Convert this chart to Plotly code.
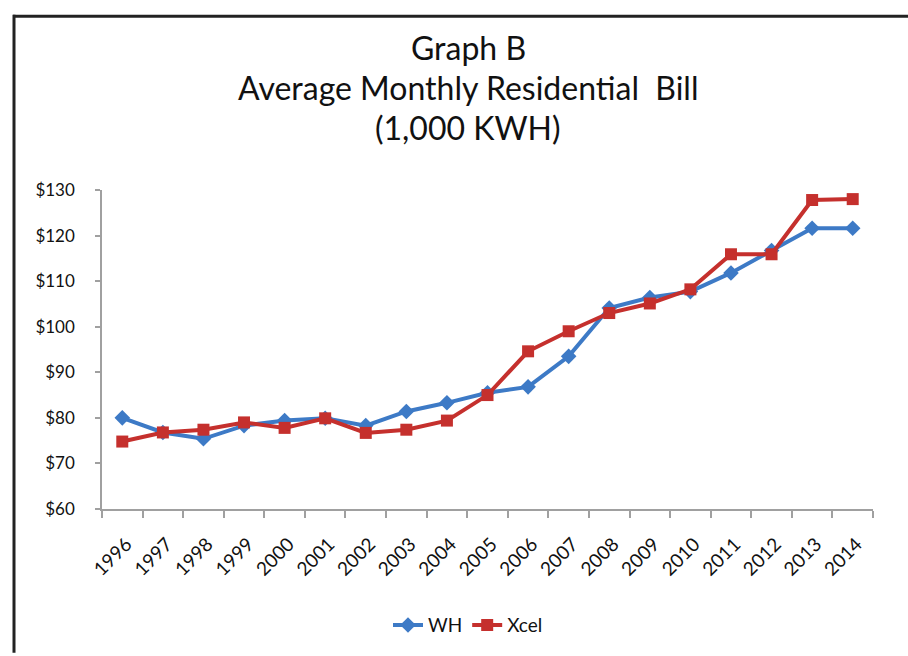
import plotly.graph_objects as go

years = [str(y) for y in range(1996, 2015)]
wh = [80.0, 76.8, 75.4, 78.3, 79.4, 79.9, 78.3, 81.4, 83.3, 85.5, 86.8, 93.5, 104.1, 106.4, 107.7, 111.8, 116.7, 121.6, 121.6]
xcel = [74.8, 76.8, 77.4, 79.0, 77.8, 79.9, 76.7, 77.4, 79.4, 85.0, 94.6, 99.0, 103.0, 105.1, 108.2, 115.9, 115.9, 127.8, 128.0]
ytick_vals = [60, 70, 80, 90, 100, 110, 120, 130]
ytick_text = ["$60", "$70", "$80", "$90", "$100", "$110", "$120", "$130"]
title_lines = ["Graph B", "Average Monthly Residential  Bill", "(1,000 KWH)"]

FONT = "Lato, 'Open Sans', sans-serif"
W, H = 908, 656
L, R, T, B = 102, 873, 190, 514

def px(xp):
    return (xp - L) / (R - L)

def py(yp):
    return (B - yp) / (B - T)

fig = go.Figure()
fig.add_trace(go.Scatter(
    x=years, y=wh, name="WH", mode="lines+markers",
    line=dict(color="#3D7AC6", width=4),
    marker=dict(symbol="diamond", size=12, color="#3D7AC6"),
))
fig.add_trace(go.Scatter(
    x=years, y=xcel, name="Xcel", mode="lines+markers",
    line=dict(color="#C5302D", width=4),
    marker=dict(symbol="square", size=12, color="#C5302D"),
))

annotations = []
for txt, yc in zip(title_lines, [45, 86, 127]):
    annotations.append(dict(
        text=txt, xref="paper", yref="paper", x=px(468), y=py(yc),
        xanchor="center", yanchor="middle", showarrow=False,
        font=dict(family=FONT, size=32, color="#111111"),
    ))

shapes = [
    dict(type="line", xref="paper", yref="paper", x0=px(13), x1=px(912), y0=py(13.5), y1=py(13.5),
         line=dict(color="#222222", width=3)),
    dict(type="line", xref="paper", yref="paper", x0=px(14), x1=px(14), y0=py(12), y1=py(660),
         line=dict(color="#222222", width=3)),
]

fig.update_layout(
    width=W, height=H,
    margin=dict(l=L, r=W - R, t=T, b=H - B, pad=0),
    paper_bgcolor="white", plot_bgcolor="white",
    font=dict(family=FONT, size=18, color="#111111"),
    showlegend=True,
    legend=dict(orientation="h", x=px(468), y=py(632), xanchor="center", yanchor="middle",
                font=dict(family=FONT, size=19), tracegroupgap=0,
                bgcolor="rgba(0,0,0,0)"),
    annotations=annotations,
    shapes=shapes,
    xaxis=dict(
        type="category", showgrid=False, showline=True, linecolor="#a0a0a0", linewidth=1.5,
        ticks="outside", tickson="boundaries", ticklen=7, tickcolor="#a0a0a0", tickwidth=1.5,
        tickangle=-45, tickfont=dict(family=FONT, size=19, color="#111111"),
        ticklabelstandoff=15, ticklabelshift=4,
        range=[-0.5, len(years) - 0.5], fixedrange=True,
    ),
    yaxis=dict(
        range=[60, 130], tickvals=ytick_vals, ticktext=ytick_text,
        showgrid=False, showline=True, linecolor="#a0a0a0", linewidth=1.5,
        ticks="outside", ticklen=5, tickcolor="#a0a0a0", tickwidth=1.5,
        tickfont=dict(family=FONT, size=17, color="#111111"), zeroline=False,
        ticklabelstandoff=17, fixedrange=True,
    ),
)

fig.write_html(
    "out.html",
    config={"displayModeBar": False},
    post_script="document.body.style.margin='0';document.body.style.overflow='hidden';",
)
